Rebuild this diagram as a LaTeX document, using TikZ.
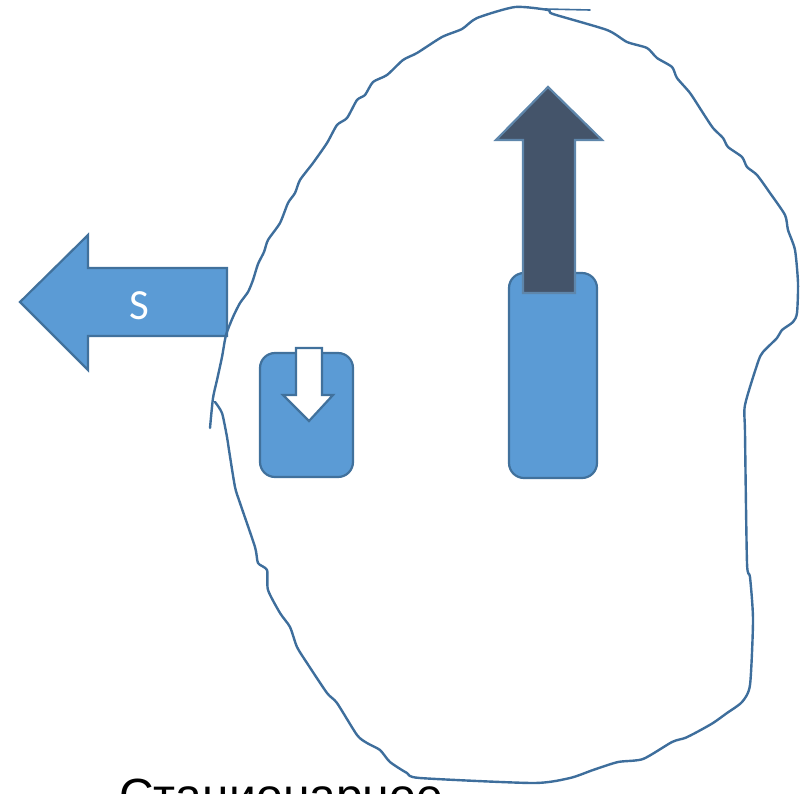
\documentclass[tikz,border=0pt]{standalone}
\usepackage{fontspec}
\setmainfont{Liberation Sans}
\newfontfamily\calibrilike{Carlito}
\definecolor{shapefill}{HTML}{5B9BD5}
\definecolor{shapeedge}{HTML}{41719C}
\definecolor{darkfill}{HTML}{44546A}
\definecolor{inkline}{HTML}{3E6E9C}
\begin{document}
\begin{tikzpicture}[x=1pt,y=-1pt,
  blueshape/.style={fill=shapefill,draw=shapeedge,line width=2.2pt,line join=miter},
  whiteshape/.style={fill=white,draw=shapeedge,line width=2.2pt,line join=miter},
  darkshape/.style={fill=darkfill,draw=shapeedge!85!white,line width=2.2pt,line join=miter},
  inkstroke/.style={draw=inkline,line width=2.4pt,line join=round,line cap=round},
  roundbox/.style={blueshape,rounded corners=15pt}]
\useasboundingbox (0,0) rectangle (808,793);
\clip (0,0) rectangle (808,793);

% left arrow labelled S
\draw[blueshape] (227,268) -- (88,268) -- (88,235) -- (20,302) -- (88,370) -- (88,336) -- (227,336) -- cycle;
\node[text=white,font=\calibrilike\fontsize{43}{43}\selectfont,inner sep=0pt] (slabel) at (139,306) {S};

% small box with a downward arrow
\draw[roundbox] (260,353) rectangle (353,477);
\draw[whiteshape] (296,348) -- (322,348) -- (322,395) -- (333,395) -- (309,421) -- (283,395) -- (296,395) -- cycle;

% tall box with an upward arrow
\draw[roundbox] (509,273) rectangle (597,478);
\draw[darkshape] (523,293) -- (523,140) -- (496,140) -- (548,87) -- (602,140) -- (575,140) -- (575,293) -- cycle;

% freehand outline
\draw[inkstroke] plot[smooth,tension=0.4] coordinates {
 (210,428) (213,398) (217,380) (222,357) (226,335) (233,317) (240,303) (248,292)
 (253,280) (258,264) (264,252) (268,240) (280,223) (288,203) (295,193) (300,180)
 (313,163) (327,143) (337,125) (347,118) (357,100) (365,95) (373,82) (387,75)
 (403,60) (417,53) (442,37) (462,29) (477,18) (515,7) (548,10)
 (553,14) (607,30) (627,42) (647,48) (657,58) (672,67) (677,78) (690,93)
 (703,113) (713,128) (723,138) (728,147) (742,157) (747,167) (757,175) (770,193)
 (785,215) (788,230) (795,250) (798,283) (797,313) (793,322) (782,330) (777,338)
 (763,352) (758,362) (745,405) (745,433) (747,563) (750,577) (753,620) (750,685)
 (742,702) (727,713) (713,723) (697,732) (685,738) (672,742) (643,759) (618,762)
 (593,770) (570,778) (533,783) (420,778) (407,773) (390,762) (380,750) (367,743)
 (357,735) (337,703) (327,693) (307,663) (297,647) (290,627) (280,613) (268,590)
 (267,570) (258,563) (255,547) (240,503) (235,487) (229,450) (227,437) (222,413)
 (215,402)};
\draw[draw=inkline,line width=1.6pt,line cap=round] (545,9) -- (590,10);

% caption, cut by the lower edge
\node[anchor=base west,font=\fontsize{48}{48}\selectfont,inner sep=0pt] (caption) at (119,812) {Стационарное};
\end{tikzpicture}
\end{document}
